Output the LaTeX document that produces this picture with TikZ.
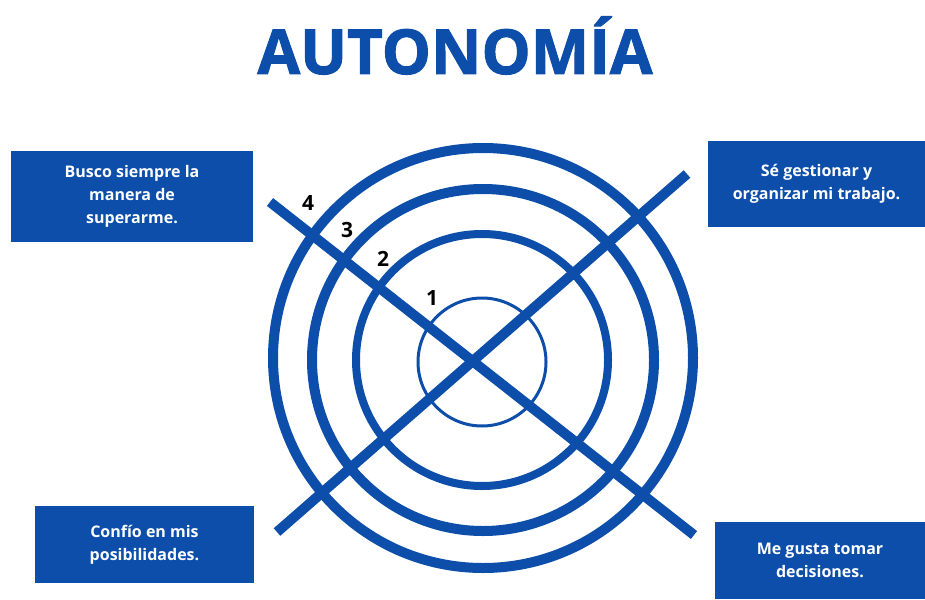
\documentclass[tikz,border=0pt]{standalone}
\usepackage{fontspec}
\setmainfont{Open Sans}
\newfontfamily\titlefont{Open Sans}[BoldFeatures={FakeBold=1.6}]
\definecolor{autoblue}{RGB}{12,78,170}
\tikzset{
	box/.style={fill=autoblue,text=white,font=\fontsize{16}{23}\selectfont\bfseries,align=center,inner sep=0pt},
	ring/.style={draw=autoblue,line width=#1},
	bar/.style={draw=autoblue,line width=10pt},
	num/.style={font=\fontsize{21}{21}\selectfont\bfseries,text=black}
}
\begin{document}
\begin{tikzpicture}[x=1pt,y=-1pt]
	\useasboundingbox (0,0) rectangle (925,599);

	% Title
	\node[text=autoblue,font=\titlefont\fontsize{62}{62}\selectfont\bfseries,anchor=base] (title) at (455,74) {AUTONOMÍA};

	% Rings
	\draw[ring=10pt] (483,358) circle (210);
	\draw[ring=10pt] (483,360) circle (171);
	\draw[ring=8pt] (482,360) circle (126);
	\draw[ring=3pt] (482,362) circle (64);

	% Cross
	\coordinate (a1) at (270,202);
	\coordinate (b1) at (694,535);
	\coordinate (a2) at (277,532);
	\coordinate (b2) at (687,174);
	\draw[bar] (a1) -- (b1);
	\draw[bar] (a2) -- (b2);

	% Levels
	\node[num] (n4) at (308,203) {4};
	\node[num] (n3) at (347,230) {3};
	\node[num] (n2) at (383,259) {2};
	\node[num] (n1) at (432,298) {1};

	% Boxes
	\node[box,minimum width=242,minimum height=91] (tl) at (132,196) {Busco siempre la\\manera de\\superarme.};
	\node[box,minimum width=217,minimum height=86] (tr) at (816.5,184) {Sé gestionar y\\organizar mi trabajo.};
	\node[box,minimum width=219,minimum height=77] (bl) at (144.5,544.5) {Confío en mis\\posibilidades.};
	\node[box,minimum width=210,minimum height=77] (br) at (820,560.5) {Me gusta tomar\\decisiones.};

\end{tikzpicture}
\end{document}
